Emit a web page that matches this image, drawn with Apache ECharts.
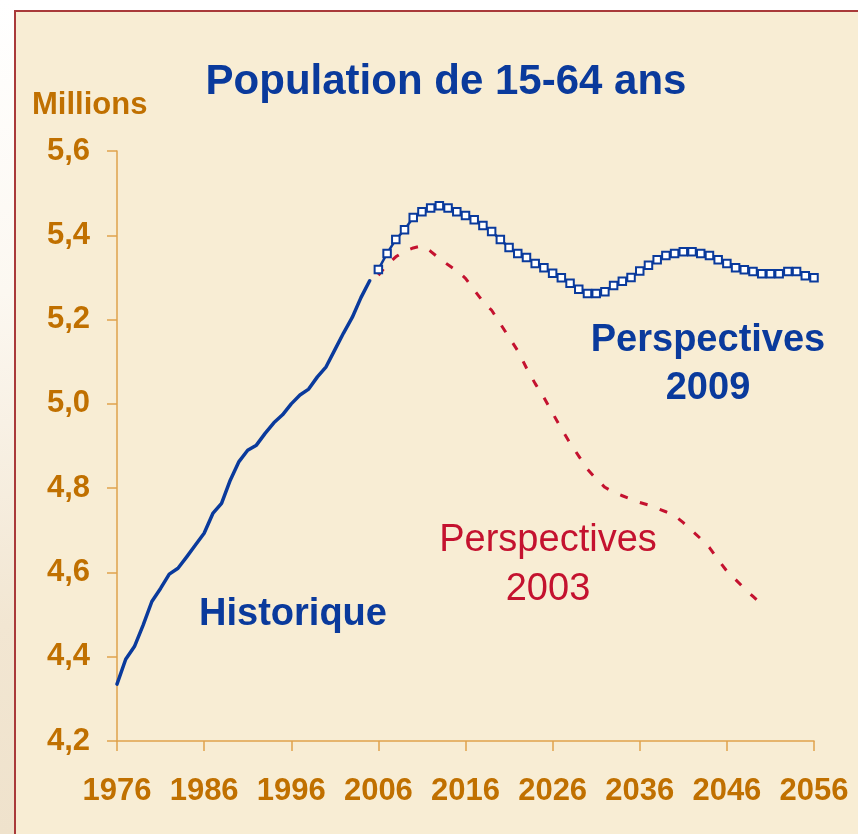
<!DOCTYPE html>
<html>
<head>
<meta charset="utf-8">
<script src="https://cdn.jsdelivr.net/npm/echarts@6/dist/echarts.min.js"></script>
<style>
html,body{margin:0;padding:0;background:#fff;}
#chart{width:858px;height:834px;}
</style>
</head>
<body>
<div id="chart"></div>
<script>
// ---- Data ----
const histYears = [1976,1977,1978,1979,1980,1981,1982,1983,1984,1985,1986,1987,1988,1989,1990,
  1991,1992,1993,1994,1995,1996,1997,1998,1999,2000,2001,2002,2003,2004,2005];
const histValues = [4.335,4.394,4.424,4.475,4.531,4.562,4.596,4.610,4.637,4.665,4.693,4.740,4.764,4.819,4.863,
  4.890,4.902,4.930,4.955,4.974,5.000,5.021,5.035,5.064,5.088,5.128,5.168,5.205,5.252,5.292];

const proj2009Years = [2006,2007,2008,2009,2010,2011,2012,2013,2014,2015,2016,2017,2018,2019,2020,
  2021,2022,2023,2024,2025,2026,2027,2028,2029,2030,2031,2032,2033,2034,2035,2036,2037,2038,2039,2040,
  2041,2042,2043,2044,2045,2046,2047,2048,2049,2050,2051,2052,2053,2054,2055,2056];
const proj2009Values = [5.319,5.357,5.390,5.413,5.442,5.456,5.465,5.470,5.465,5.456,5.447,5.437,5.423,5.409,5.390,
  5.371,5.357,5.347,5.333,5.323,5.310,5.299,5.286,5.272,5.262,5.262,5.266,5.281,5.291,5.300,5.315,5.329,5.342,5.352,5.357,
  5.361,5.361,5.357,5.352,5.342,5.333,5.323,5.318,5.314,5.309,5.309,5.309,5.314,5.314,5.304,5.299];

const proj2003Years = [2006,2007,2008,2009,2010,2011,2012,2013,2014,2015,2016,2017,2018,2019,2020,
  2021,2022,2023,2024,2025,2026,2027,2028,2029,2030,2031,2032,2033,2034,2035,2036,2037,2038,2039,2040,
  2041,2042,2043,2044,2045,2046,2047,2048,2049,2050];
const proj2003Values = [5.305,5.330,5.349,5.362,5.370,5.375,5.362,5.345,5.330,5.316,5.298,5.270,5.243,5.222,5.190,
  5.158,5.126,5.085,5.048,5.015,4.978,4.941,4.907,4.876,4.845,4.822,4.802,4.790,4.782,4.774,4.766,4.760,4.752,4.744,4.735,
  4.718,4.699,4.680,4.659,4.630,4.603,4.583,4.562,4.543,4.524];

const xTicks = [1976,1986,1996,2006,2016,2026,2036,2046,2056];
const yTicks = [4.2,4.4,4.6,4.8,5.0,5.2,5.4,5.6];

const titleText = 'Population de 15-64 ans';
const unitText = 'Millions';
const labelHist = 'Historique';
const label2009 = ['Perspectives', '2009'];
const label2003 = ['Perspectives', '2003'];

// ---- Styles ----
const FONT = "'Liberation Sans', Arial, sans-serif";
const BLUE = '#0A3A9C';
const RED = '#C4122F';
const AXIS = '#DFA24C';
const LABEL = '#C07000';
const BG = '#F8EDD4';

const pairs = (xs, ys) => xs.map((x, i) => [x, ys[i]]);

const chart = echarts.init(document.getElementById('chart'), null, {renderer: 'canvas'});

const textEl = (x, y, text, size, weight, color) => ({
  type: 'text', x: x, y: y, silent: true, z: 10,
  style: {text: text, fontSize: size, fontWeight: weight, fontFamily: FONT, fill: color,
    align: 'center', verticalAlign: 'middle'}
});

chart.setOption({
  animation: false,
  backgroundColor: 'transparent',
  grid: {left: 117, right: 44, top: 151, bottom: 93, containLabel: false},
  xAxis: {
    type: 'value', min: 1976, max: 2056, interval: 10,
    axisLine: {show: true, lineStyle: {color: AXIS, width: 1.5}},
    axisTick: {show: true, length: 10, lineStyle: {color: AXIS, width: 1.5}},
    splitLine: {show: false},
    axisLabel: {color: LABEL, fontSize: 31, fontWeight: 'bold', fontFamily: FONT, margin: 35,
      formatter: v => xTicks.includes(v) ? String(v) : ''}
  },
  yAxis: {
    type: 'value', min: 4.2, max: 5.6, interval: 0.2,
    axisLine: {show: true, lineStyle: {color: AXIS, width: 1.5}},
    axisTick: {show: true, length: 10, lineStyle: {color: AXIS, width: 1.5}},
    splitLine: {show: false},
    axisLabel: {color: LABEL, fontSize: 31, fontWeight: 'bold', fontFamily: FONT, margin: 27,
      padding: [5, 0, 0, 0],
      formatter: v => v.toFixed(1).replace('.', ',')}
  },
  graphic: [
    {type: 'rect', z: -100, silent: true, shape: {x: 0, y: 0, width: 15, height: 834},
      style: {fill: new echarts.graphic.LinearGradient(0, 0, 0, 1, [
        {offset: 0, color: '#FFFFFF'}, {offset: 0.35, color: '#FCF8F1'},
        {offset: 0.75, color: '#F2E6D2'}, {offset: 1, color: '#EFE2CC'}])}},
    {type: 'rect', z: -90, silent: true, shape: {x: 15, y: 11, width: 900, height: 900},
      style: {fill: BG, stroke: '#A93A3A', lineWidth: 2}},
    textEl(446, 82, titleText, 42, 'bold', BLUE),
    {type: 'text', x: 32, y: 105, silent: true, z: 10,
      style: {text: unitText, fontSize: 31, fontWeight: 'bold', fontFamily: FONT, fill: LABEL,
        align: 'left', verticalAlign: 'middle'}},
    textEl(293, 615, labelHist, 38, 'bold', BLUE),
    textEl(708, 341, label2009[0], 38, 'bold', BLUE),
    textEl(708, 389, label2009[1], 38, 'bold', BLUE),
    textEl(548, 541, label2003[0], 38, 'normal', RED),
    textEl(548, 590, label2003[1], 38, 'normal', RED)
  ],
  series: [
    {
      name: 'Perspectives 2003', type: 'line', z: 2,
      data: pairs(proj2003Years, proj2003Values),
      showSymbol: false, symbol: 'none',
      lineStyle: {color: RED, width: 3, type: [8, 13], cap: 'butt'}
    },
    {
      name: 'Historique', type: 'line', z: 3,
      data: pairs(histYears, histValues),
      showSymbol: false, symbol: 'none',
      lineStyle: {color: BLUE, width: 3.5, cap: 'round', join: 'round'}
    },
    {
      name: 'Perspectives 2009', type: 'line', z: 4,
      data: pairs(proj2009Years, proj2009Values),
      symbol: 'rect', symbolSize: 7.5, showAllSymbol: true,
      lineStyle: {color: BLUE, width: 2.5},
      itemStyle: {color: '#FFFFFF', borderColor: BLUE, borderWidth: 2}
    }
  ]
});
</script>
</body>
</html>
